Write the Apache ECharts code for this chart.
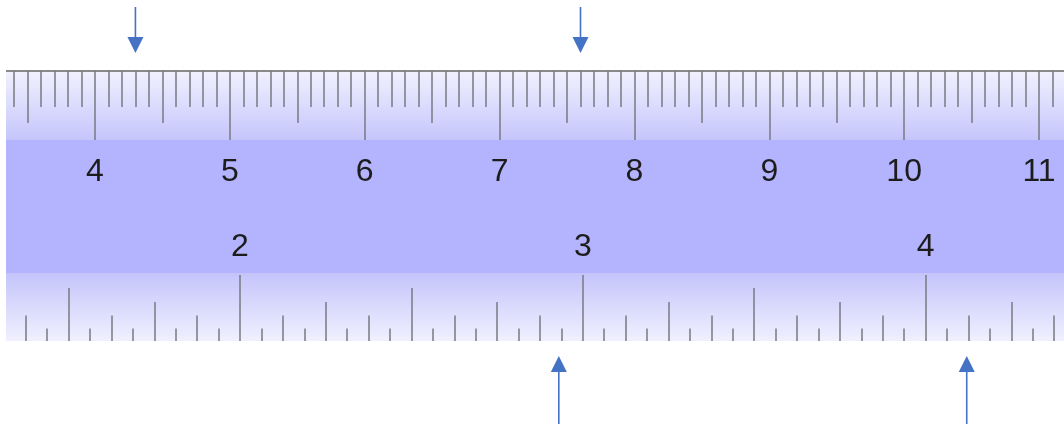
<!DOCTYPE html>
<html><head><meta charset="utf-8">
<script src="https://cdn.jsdelivr.net/npm/echarts@6/dist/echarts.min.js"></script>
<style>
html,body{margin:0;padding:0;background:#fff;overflow:hidden;width:1064px;height:424px;position:relative}
#c{position:absolute;left:-250px;top:0;width:1564px;height:424px}
</style>
</head><body><div id="c"></div>
<script>
// ---- data ----
const cmLabels = [4, 5, 6, 7, 8, 9, 10, 11];      // centimetre tick labels
const inchLabels = [2, 3, 4];                      // inch tick labels
const cmTickSteps = [1, 0.5, 0.1];                 // cm, half-cm, mm
const inchTickSteps = [1, 0.5, 0.25, 0.125, 0.0625];
const topArrows = [4.3, 7.6];                      // cm readings marked by arrows
const bottomArrows = [2.93, 4.12];                 // inch readings marked by arrows
const cmRange = [3, 12];
const inchRange = [1, 5];

// ---- layout / style ----
// the chart canvas is wider than the window and shifted 250px left,
// so that the ruler scales can start off-screen.
const SHIFT = 250;
const TICK = '#7a7a82';
const BLUE = '#4472c4';
const FONT = 'Liberation Sans, Arial, sans-serif';
const topGrid = { left: 210.1, right: 140.1, top: 71, height: 69 };
const botGrid = { left: 147.2, right: 45.6, top: 273, height: 68 };
const cmLens = [69, 52, 36];
const inchLens = [66, 53, 39, 25.5, 12.5];

const grid = [], xAxis = [], yAxis = [];
function addAxis(g, pos, range, step, len, labels, showLine) {
  const idx = grid.length;
  grid.push(Object.assign({ containLabel: false }, g));
  xAxis.push({
    gridIndex: idx, type: 'value', position: pos, min: range[0], max: range[1], interval: step,
    z: 5,
    axisLine: { show: !!showLine, onZero: false, lineStyle: { color: '#8a8a8a', width: 2 } },
    axisTick: { show: true, inside: true, length: len, lineStyle: { color: TICK, width: 1.5 } },
    splitLine: { show: false },
    axisLabel: labels ? {
      show: true, inside: true, margin: pos === 'top' ? 101.5 : 93.5, verticalAlign: 'middle',
      fontSize: 32, color: '#1c1c1c', fontFamily: FONT,
      formatter: v => (labels.indexOf(Math.round(v * 1000) / 1000) >= 0 ? String(v) : '')
    } : { show: false }
  });
  yAxis.push({ gridIndex: idx, type: 'value', min: 0, max: 1, show: false });
  return idx;
}
const cmAxes = cmTickSteps.map((s, i) => addAxis(topGrid, 'top', cmRange, s, cmLens[i], i === 0 ? cmLabels : null, i === 0));
const inchAxes = inchTickSteps.map((s, i) => addAxis(botGrid, 'bottom', inchRange, s, inchLens[i], i === 0 ? inchLabels : null, false));

function arrowRender(dir) {
  return function (params, api) {
    const cs = params.coordSys;
    const x = api.coord([api.value(0), 0])[0];
    let tip, base, tail;
    if (dir === 'down') { tip = cs.y - 18; base = tip - 16; tail = tip - 46; }
    else { tip = cs.y + cs.height + 15; base = tip + 16; tail = tip + 68; }
    return {
      type: 'group', children: [
        { type: 'line', shape: { x1: x, y1: tail, x2: x, y2: base }, style: { stroke: BLUE, lineWidth: 1.6 } },
        { type: 'polygon', shape: { points: [[x, tip], [x - 8, base], [x + 8, base]] }, style: { fill: BLUE } }
      ]
    };
  };
}

const chart = echarts.init(document.getElementById('c'), null, { renderer: 'canvas' });
chart.setOption({
  animation: false,
  backgroundColor: '#ffffff',
  grid, xAxis, yAxis,
  graphic: [
    { type: 'rect', z: -10, shape: { x: SHIFT + 6, y: 71, width: 1058, height: 69 },
      style: { fill: new echarts.graphic.LinearGradient(0, 0, 0, 1, [{ offset: 0, color: '#f1f1ff' }, { offset: 1, color: '#c5c5fc' }]) } },
    { type: 'rect', z: -10, shape: { x: SHIFT + 6, y: 140, width: 1058, height: 133 }, style: { fill: '#b3b3fe' } },
    { type: 'rect', z: -10, shape: { x: SHIFT + 6, y: 273, width: 1058, height: 68 },
      style: { fill: new echarts.graphic.LinearGradient(0, 0, 0, 1, [{ offset: 0, color: '#c4c4fb' }, { offset: 1, color: '#f0f0ff' }]) } },
    // clip the top axis line to the ruler's left edge
    { type: 'rect', z: 20, shape: { x: 0, y: 60, width: SHIFT + 6, height: 290 }, style: { fill: '#ffffff' } }
  ],
  series: [
    { type: 'custom', xAxisIndex: cmAxes[0], yAxisIndex: cmAxes[0], renderItem: arrowRender('down'),
      data: topArrows.map(v => [v, 0]), z: 10, clip: false },
    { type: 'custom', xAxisIndex: inchAxes[0], yAxisIndex: inchAxes[0], renderItem: arrowRender('up'),
      data: bottomArrows.map(v => [v, 0]), z: 10, clip: false }
  ]
});
</script>
</body></html>
